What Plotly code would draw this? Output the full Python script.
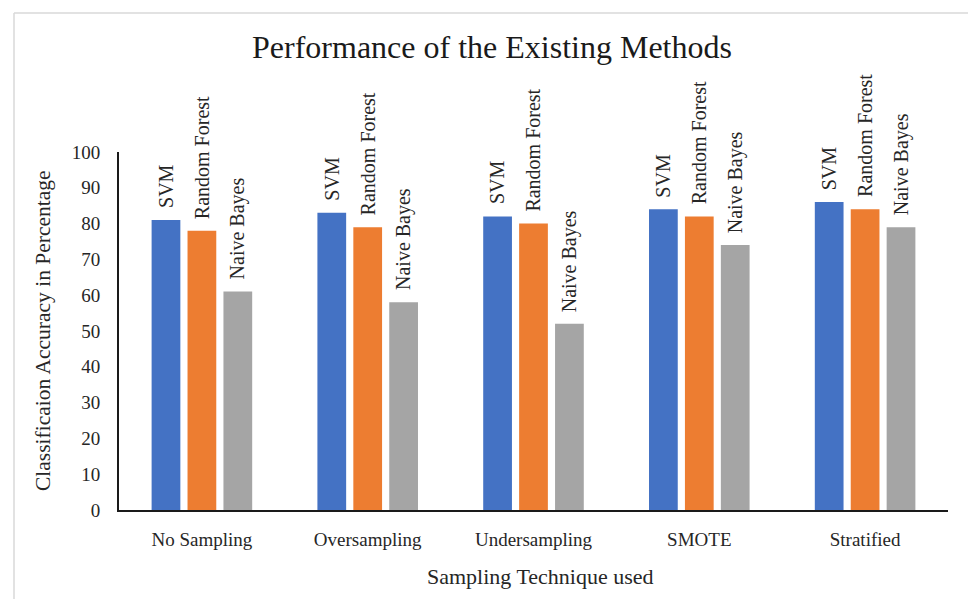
import plotly.graph_objects as go

# Classification accuracy (%) by sampling technique and classifier
techniques = ["No Sampling", "Oversampling", "Undersampling", "SMOTE", "Stratified"]
svm = [81, 83, 82, 84, 86]
random_forest = [78, 79, 80, 82, 84]
naive_bayes = [61, 58, 52, 74, 79]
y_ticks = [0, 10, 20, 30, 40, 50, 60, 70, 80, 90, 100]

series = [
    ("SVM", svm, "#4472C4"),
    ("Random Forest", random_forest, "#ED7D31"),
    ("Naive Bayes", naive_bayes, "#A5A5A5"),
]

SERIF = "Liberation Serif, Times New Roman, serif"
W, H = 968, 599
L, R, T, B = 119, 20, 152, 89
plot_w = W - L - R
plot_h = H - T - B
BARGAP = 0.35
BARGROUPGAP = 0.2

fig = go.Figure()
for name, vals, color in series:
    fig.add_trace(go.Bar(
        name=name,
        x=techniques,
        y=vals,
        marker=dict(color=color, line=dict(width=0)),
        hoverinfo="x+y+name",
    ))

# series names written vertically above each bar
cat_w = plot_w / len(techniques)
slot_w = (1 - BARGAP) * cat_w / len(series)
annotations = []
for i, (name, vals, _) in enumerate(series):
    shift = (i - (len(series) - 1) / 2) * slot_w
    for cat, v in zip(techniques, vals):
        annotations.append(dict(
            x=cat, y=v, xref="x", yref="y",
            text=name, textangle=-90, showarrow=False,
            xanchor="center", yanchor="bottom",
            xshift=shift, yshift=10,
            font=dict(family=SERIF, size=20, color="#262626"),
        ))

def px_x(p):
    return (p - L) / plot_w

def px_y(p):
    return (H - B - p) / plot_h

# light frame around the chart area
frame = dict(color="#D9D9D9", width=1.5)
shapes = [
    dict(type="line", xref="paper", yref="paper",
         x0=px_x(14), y0=px_y(13), x1=px_x(W + 5), y1=px_y(13), line=frame),
    dict(type="line", xref="paper", yref="paper",
         x0=px_x(14), y0=px_y(13), x1=px_x(14), y1=px_y(H + 5), line=frame),
]

annotations += [
    dict(text="Sampling Technique used", xref="paper", yref="paper",
         x=px_x(540), y=px_y(576), xanchor="center", yanchor="middle",
         showarrow=False, font=dict(family=SERIF, size=22, color="#262626")),
    dict(text="Classificaion Accuracy in Percentage", xref="paper", yref="paper",
         x=px_x(43), y=px_y(331), xanchor="center", yanchor="middle",
         textangle=-90, showarrow=False,
         font=dict(family=SERIF, size=21.5, color="#262626")),
]

fig.update_layout(
    width=W, height=H,
    margin=dict(l=L, r=R, t=T, b=B),
    paper_bgcolor="white",
    plot_bgcolor="white",
    showlegend=False,
    barmode="group",
    bargap=BARGAP,
    bargroupgap=BARGROUPGAP,
    title=dict(
        text="Performance of the Existing Methods",
        font=dict(family=SERIF, size=32, color="#1a1a1a"),
        x=492 / W, xref="container", xanchor="center",
        y=1 - 47 / H, yref="container", yanchor="middle",
    ),
    xaxis=dict(
        showline=True, linecolor="#1a1a1a", linewidth=2,
        showgrid=False, ticks="", ticklabelstandoff=11,
        tickfont=dict(family=SERIF, size=19, color="#262626"),
    ),
    yaxis=dict(
        range=[0, 100], tickvals=y_ticks,
        showline=True, linecolor="#1a1a1a", linewidth=2,
        showgrid=False, zeroline=False, ticks="",
        ticklabelstandoff=13,
        tickfont=dict(family=SERIF, size=19, color="#262626"),
    ),
    shapes=shapes,
    annotations=annotations,
)

fig.write_html("out.html")
